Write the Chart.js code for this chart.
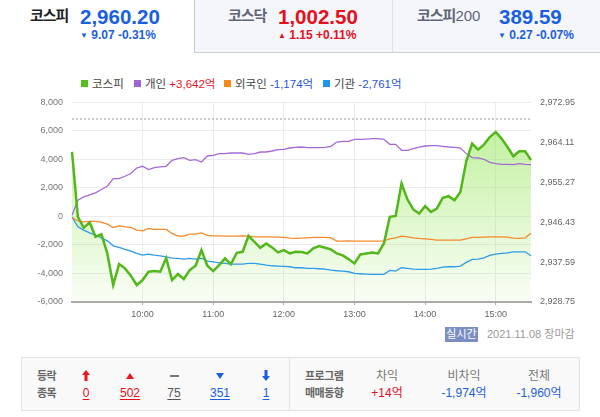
<!DOCTYPE html>
<html lang="ko">
<head>
<meta charset="utf-8">
<script src="https://cdn.jsdelivr.net/npm/chart.js@4.4.1/dist/chart.umd.min.js"></script>
<style>
  body { margin: 0; width: 600px; height: 417px; background: #fff; position: relative; overflow: hidden;
         font-family: "Liberation Sans", "Noto Sans CJK KR", sans-serif; }
  .a { position: absolute; white-space: nowrap; }
  .tab { position: absolute; top: 0; height: 52px; background: #f5f6f9; border-bottom: 1px solid #c9ccd4; }
  .name { font-size: 15px; font-weight: bold; letter-spacing: -1px; line-height: 20px; top: 6px; }
  .price { font-size: 20.5px; font-weight: bold; line-height: 24px; top: 5px; }
  .sub { font-size: 12px; font-weight: bold; line-height: 14px; top: 28px; }
  .tri { font-size: 8px; vertical-align: 1px; }
  .blue { color: #1a5fe0; }
  .red { color: #e60f1e; }
  .leg { top: 77px; font-size: 11.5px; line-height: 14px; color: #444; }
  .leg i { display: inline-block; width: 7px; height: 7px; margin-right: 4px; vertical-align: 1px; }
  .box { left: 21px; top: 357px; width: 557px; height: 52px; background: #f9f9f9; border: 1px solid #e3e3e3; }
  .c { width: 60px; text-align: center; font-size: 12px; line-height: 14px; }
  .lbl { font-size: 11px; font-weight: bold; color: #666; letter-spacing: -0.5px; line-height: 14px; }
  u { text-underline-offset: 2px; }
</style>
</head>
<body>

<!-- 상단 지수 탭 -->
<div class="tab" style="left:194px;width:198px;border-left:1px solid #c6c9d1;"></div>
<div class="tab" style="left:392px;width:208px;border-left:1px solid #dfe1e6;"></div>

<div class="a name" style="left:30px;color:#222;">코스피</div>
<div class="a price blue" style="left:80px;">2,960.20</div>
<div class="a sub blue" style="left:80px;"><span class="tri">▼</span> 9.07 -0.31%</div>

<div class="a name" style="left:228px;color:#5f6677;">코스닥</div>
<div class="a price red" style="left:278px;">1,002.50</div>
<div class="a sub red" style="left:278px;"><span class="tri">▲</span> 1.15 +0.11%</div>

<div class="a name" style="left:417px;color:#5f6677;">코스피<span style="font-weight:normal;letter-spacing:0;">200</span></div>
<div class="a price blue" style="left:499px;">389.59</div>
<div class="a sub blue" style="left:498px;"><span class="tri">▼</span> 0.27 -0.07%</div>

<!-- 범례 -->
<div class="a leg" style="left:81px;"><i style="background:#57c01a"></i>코스피</div>
<div class="a leg" style="left:134px;"><i style="background:#a063d4"></i>개인 <span style="color:#e8141e">+3,642억</span></div>
<div class="a leg" style="left:224px;"><i style="background:#f68a1e"></i>외국인 <span style="color:#1f55d8">-1,174억</span></div>
<div class="a leg" style="left:323px;"><i style="background:#1e95e8"></i>기관 <span style="color:#1f55d8">-2,761억</span></div>

<div class="a" style="left:0;top:88px;width:600px;height:239px;">
  <canvas id="chart" width="600" height="239"></canvas>
</div>

<div class="a" style="left:445px;top:327px;width:33px;height:15px;background:#7b8ec4;color:#fff;font-size:11px;line-height:15px;text-align:center;">실시간</div>
<div class="a" style="left:487px;top:327px;font-size:11px;line-height:15px;color:#999;">2021.11.08 장마감</div>

<!-- 하단 등락 종목 / 프로그램 매매동향 -->
<div class="a box"></div>
<div class="a" style="left:289px;top:358px;width:1px;height:52px;background:#e3e3e3;"></div>

<div class="a lbl" style="left:37px;top:369px;">등락</div>
<div class="a lbl" style="left:37px;top:386px;">종목</div>

<svg class="a" style="left:82px;top:370px;" width="8" height="11"><path d="M4 0L8 5H5.5V11H2.5V5H0Z" fill="#e8141e"/></svg>
<svg class="a" style="left:126px;top:373px;" width="8" height="6"><path d="M4 0L8 6H0Z" fill="#e8141e"/></svg>
<svg class="a" style="left:170px;top:375px;" width="9" height="2"><rect width="9" height="2" fill="#777"/></svg>
<svg class="a" style="left:216px;top:373px;" width="8" height="6"><path d="M0 0H8L4 6Z" fill="#1a5fe0"/></svg>
<svg class="a" style="left:262px;top:370px;" width="8" height="11"><path d="M2.5 0H5.5V6H8L4 11L0 6H2.5Z" fill="#1a5fe0"/></svg>

<div class="a c red" style="left:56px;top:386px;"><u>0</u></div>
<div class="a c red" style="left:100px;top:386px;"><u>502</u></div>
<div class="a c" style="left:144px;top:386px;color:#555;"><u>75</u></div>
<div class="a c blue" style="left:190px;top:386px;"><u>351</u></div>
<div class="a c blue" style="left:236px;top:386px;"><u>1</u></div>

<div class="a lbl" style="left:305px;top:369px;">프로그램</div>
<div class="a lbl" style="left:305px;top:386px;">매매동향</div>

<div class="a c" style="left:357px;top:369px;color:#777;">차익</div>
<div class="a c red" style="left:357px;top:386px;">+14억</div>
<div class="a c" style="left:434px;top:369px;color:#777;">비차익</div>
<div class="a c blue" style="left:434px;top:386px;">-1,974억</div>
<div class="a c" style="left:509px;top:369px;color:#777;">전체</div>
<div class="a c blue" style="left:509px;top:386px;">-1,960억</div>

<script>
// 시간 (5분 간격)
const times = [
  '09:00','09:05','09:10','09:15','09:20','09:25','09:30','09:35','09:40','09:45','09:50','09:55',
  '10:00','10:05','10:10','10:15','10:20','10:25','10:30','10:35','10:40','10:45','10:50','10:55',
  '11:00','11:05','11:10','11:15','11:20','11:25','11:30','11:35','11:40','11:45','11:50','11:55',
  '12:00','12:05','12:10','12:15','12:20','12:25','12:30','12:35','12:40','12:45','12:50','12:55',
  '13:00','13:05','13:10','13:15','13:20','13:25','13:30','13:35','13:40','13:45','13:50','13:55',
  '14:00','14:05','14:10','14:15','14:20','14:25','14:30','14:35','14:40','14:45','14:50','14:55',
  '15:00','15:05','15:10','15:15','15:20','15:25','15:30'
];
const hourTicks = ['10:00', '11:00', '12:00', '13:00', '14:00', '15:00'];

// 코스피 지수 (오른쪽 축)
const kospi = [
  2961.97, 2947.60, 2945.17, 2946.36, 2943.18, 2943.78, 2939.51, 2932.51, 2937.15, 2936.20,
  2934.56, 2932.51, 2933.61, 2935.45, 2935.60, 2935.45, 2938.47, 2933.61, 2934.94, 2933.83,
  2935.82, 2936.77, 2940.24, 2936.77, 2935.60, 2936.93, 2938.41, 2937.15, 2939.65, 2939.87,
  2943.40, 2942.08, 2940.75, 2941.72, 2940.84, 2939.73, 2940.24, 2939.51, 2939.87, 2939.80,
  2939.51, 2940.62, 2941.13, 2940.75, 2940.40, 2939.51, 2939.07, 2938.25, 2937.30, 2939.29,
  2939.51, 2939.73, 2939.51, 2941.72, 2947.60, 2947.82, 2954.98, 2951.45, 2949.24, 2948.35,
  2949.97, 2948.71, 2949.46, 2951.80, 2952.18, 2951.29, 2953.13, 2959.91, 2963.82, 2962.50,
  2963.60, 2965.28, 2966.39, 2964.93, 2963.07, 2961.02, 2962.12, 2962.12, 2960.20
];
const prevClose = 2969.27;

// 투자자별 순매수 (억, 왼쪽 축)
const individual = [
  90, 1140, 1371, 1511, 1651, 1889, 2120, 2659, 2659, 2820,
  3009, 3401, 3520, 3289, 3429, 3471, 3520, 3940, 4059, 4129,
  3940, 3989, 3821, 4241, 4290, 4409, 4409, 4451, 4451, 4451,
  4360, 4409, 4521, 4521, 4591, 4689, 4710, 4801, 4850, 4871,
  4829, 4829, 4829, 4850, 4920, 5221, 5270, 5270, 5410, 5410,
  5431, 5459, 5459, 5410, 5060, 5060, 4640, 4640, 4759, 4871,
  4941, 4969, 4969, 4920, 4871, 4850, 4801, 4409, 4129, 4101,
  4010, 3800, 3709, 3660, 3660, 3639, 3709, 3660, 3642
];
const foreign = [
  -71, -309, -379, -351, -351, -400, -540, -771, -659, -729,
  -771, -960, -1009, -841, -911, -911, -911, -1191, -1380, -1380,
  -1240, -1240, -1149, -1331, -1359, -1359, -1380, -1380, -1380, -1359,
  -1380, -1429, -1429, -1429, -1429, -1450, -1471, -1520, -1541, -1520,
  -1499, -1471, -1471, -1471, -1499, -1730, -1730, -1709, -1730, -1730,
  -1730, -1730, -1730, -1709, -1569, -1499, -1380, -1429, -1499, -1541,
  -1569, -1611, -1660, -1660, -1660, -1660, -1660, -1569, -1471, -1471,
  -1450, -1429, -1429, -1429, -1450, -1520, -1541, -1499, -1174
];
const institution = [
  -29, -729, -960, -1149, -1310, -1499, -1709, -2059, -2171, -2311,
  -2430, -2591, -2710, -2640, -2710, -2759, -2829, -2920, -2941, -2990,
  -2941, -2990, -2920, -3130, -3179, -3249, -3291, -3340, -3340, -3340,
  -3291, -3291, -3340, -3410, -3459, -3480, -3501, -3529, -3599, -3599,
  -3641, -3641, -3669, -3690, -3760, -3809, -3830, -3879, -3991, -4019,
  -4040, -4061, -4061, -4061, -3781, -3830, -3599, -3641, -3690, -3711,
  -3711, -3690, -3641, -3550, -3529, -3529, -3480, -3221, -3011, -2990,
  -2899, -2731, -2640, -2591, -2549, -2479, -2479, -2479, -2761
];

const leftTicks = [-6000, -4000, -2000, 0, 2000, 4000, 6000, 8000];
const rightTicks = [2928.75, 2937.59, 2946.43, 2955.27, 2964.11, 2972.95];

Chart.defaults.font.family = "'Liberation Sans', 'Noto Sans CJK KR', sans-serif";
Chart.defaults.font.size = 9;

function greenFill(c) {
    const a = c.chart.chartArea;
    if (!a) return 'rgba(0,0,0,0)';
    const g = c.chart.ctx.createLinearGradient(0, a.top, 0, a.bottom);
    g.addColorStop(0, 'rgba(150,230,90,0.65)');
    g.addColorStop(1, 'rgba(150,230,90,0.05)');
    return g;
}

new Chart(document.getElementById('chart'), {
    type: 'line',
    data: {
        labels: times,
        datasets: [
            { label: '코스피', data: kospi, yAxisID: 'y1', borderColor: '#52b81a', borderWidth: 2.5,
              fill: 'start', backgroundColor: greenFill },
            { label: '개인', data: individual, yAxisID: 'y', borderColor: '#a56ad8', borderWidth: 1.3 },
            { label: '외국인', data: foreign, yAxisID: 'y', borderColor: '#f7892a', borderWidth: 1.3 },
            { label: '기관', data: institution, yAxisID: 'y', borderColor: '#2b9cea', borderWidth: 1.3 },
            { label: '전일종가', data: times.map(() => prevClose), yAxisID: 'y1', borderColor: '#999',
              borderWidth: 1, borderDash: [2, 2] }
        ]
    },
    options: {
        responsive: false,
        animation: false,
        elements: { point: { radius: 0 }, line: { tension: 0 } },
        layout: { padding: 0 },
        plugins: {
            legend: { display: false },
            tooltip: { enabled: false },
            filler: { drawTime: 'beforeDatasetsDraw' }
        },
        scales: {
            x: {
                offset: false,
                grid: { color: '#ebebeb', tickLength: 3, tickColor: '#aaa' },
                border: { color: '#aaa', width: 2 },
                ticks: {
                    autoSkip: false, maxRotation: 0, padding: 4, color: '#666',
                    callback: function(v) { return this.getLabelForValue(v).replace(/^0/, ''); }
                },
                afterBuildTicks: s => { s.ticks = s.ticks.filter(t => hourTicks.includes(times[t.value])); },
                afterFit: s => { s.height = 25; }
            },
            y: {
                position: 'left',
                min: leftTicks[0], max: leftTicks[leftTicks.length - 1],
                grid: { color: '#ebebeb', drawTicks: false },
                border: { display: false },
                ticks: { padding: 9, color: '#777', callback: v => v.toLocaleString('en-US') },
                afterBuildTicks: s => { s.ticks = leftTicks.map(v => ({ value: v })); },
                afterFit: s => { s.width = 72; }
            },
            y1: {
                position: 'right',
                min: rightTicks[0], max: rightTicks[rightTicks.length - 1],
                grid: { display: false, drawTicks: false },
                border: { display: false },
                ticks: {
                    padding: 9, color: '#666',
                    callback: v => v.toLocaleString('en-US', { minimumFractionDigits: 2, maximumFractionDigits: 2 })
                },
                afterBuildTicks: s => { s.ticks = rightTicks.map(v => ({ value: v })); },
                afterFit: s => { s.width = 69; }
            }
        }
    }
});
</script>
</body>
</html>
